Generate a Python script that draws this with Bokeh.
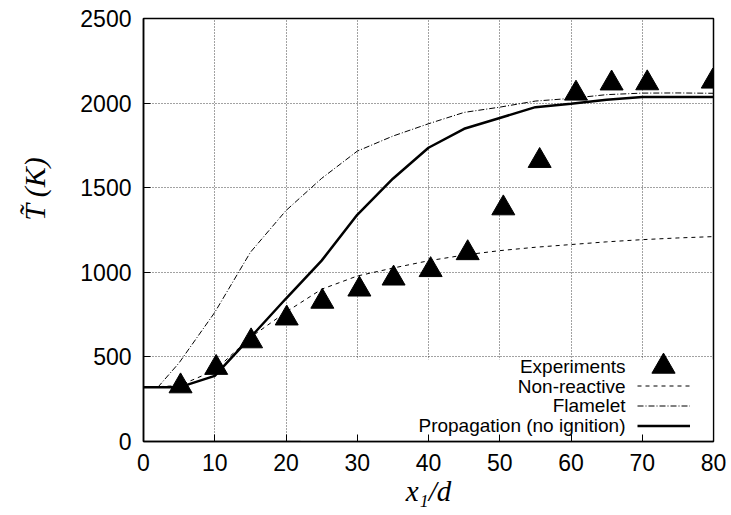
from bokeh.plotting import figure
from bokeh.models import (Legend, LegendItem, Label, BoxAnnotation, FixedTicker)
from bokeh.embed import file_html
from bokeh.resources import INLINE

# ---------------- data ----------------
x_exp = [5.2, 10.2, 15.1, 20.1, 25.1, 30.3, 35.1, 40.3, 45.5, 50.5, 55.6, 60.7, 65.7, 70.7, 79.9]
T_exp = [327, 436, 593, 728, 827, 899, 964, 1014, 1114, 1379, 1659, 2057, 2117, 2118, 2128]

x_nr = [0, 5, 10, 15, 20, 25, 30, 35, 40, 45, 50, 55, 60, 65, 70, 75, 80]
T_nr = [320, 330, 420, 615, 765, 900, 978, 1025, 1068, 1102, 1128, 1148, 1164, 1180, 1193, 1203, 1211]

x_fl = [2, 5, 10, 15, 20, 25, 30, 35, 40, 45, 50, 55, 60, 65, 70, 75, 80]
T_fl = [320, 465, 763, 1118, 1365, 1555, 1716, 1805, 1878, 1945, 1976, 2012, 2028, 2050, 2059, 2060, 2058]

x_pr = [0, 5, 10, 15, 20, 25, 30, 35, 40, 45, 50, 55, 60, 65, 70, 75, 80]
T_pr = [320, 320, 388, 615, 845, 1069, 1340, 1553, 1736, 1848, 1912, 1976, 1996, 2020, 2036, 2036, 2036]

x_ticks = [0, 10, 20, 30, 40, 50, 60, 70, 80]
y_ticks = [0, 500, 1000, 1500, 2000, 2500]

legend_labels = ["Experiments", "Non-reactive", "Flamelet", "Propagation (no ignition)"]
x_label = "x\u2081/d"
y_label = "T\u0303 (K)"

SANS = "Liberation Sans"
SERIF = "Liberation Serif"

p = figure(frame_width=570, frame_height=423,
           x_range=(0, 80), y_range=(0, 2500),
           min_border_left=143, min_border_right=18,
           min_border_top=18, min_border_bottom=74,
           output_backend="svg", toolbar_location=None,
           background_fill_color="white", border_fill_color="white")

p.outline_line_color = "black"
p.outline_line_width = 1.5

for ax, ticks in ((p.xaxis[0], x_ticks), (p.yaxis[0], y_ticks)):
    ax.ticker = FixedTicker(ticks=ticks)
    ax.major_tick_in = 7
    ax.major_tick_out = 0
    ax.minor_tick_in = 0
    ax.minor_tick_out = 0
    ax.major_tick_line_color = "black"
    ax.axis_line_color = "black"
    ax.axis_line_width = 1.5
    ax.major_label_text_font = SANS
    ax.major_label_text_font_size = "23px"
    ax.major_label_text_color = "black"
    ax.major_label_standoff = 12
    ax.axis_label_text_font = SERIF
    ax.axis_label_text_font_style = "italic"
    ax.axis_label_text_color = "black"

yax = p.yaxis[0]
# leading no-break spaces shift the centred (rotated) title upwards, as in the reference
yax.axis_label = "\u00a0" * 11 + y_label
yax.axis_label_text_font_size = "30px"
yax.axis_label_standoff = 26

xax = p.xaxis[0]
xax.axis_label = x_label
xax.axis_label_text_font_size = "29px"
xax.axis_label_standoff = 1

for g in (p.xgrid[0], p.ygrid[0]):
    g.grid_line_color = "#444444"
    g.grid_line_dash = "1 2"
    g.grid_line_width = 1

# opaque key background (hides grid behind the key)
key_box = BoxAnnotation(left=157, right=569, bottom=1, top=82,
                        left_units="screen", right_units="screen",
                        bottom_units="screen", top_units="screen",
                        fill_color="white", fill_alpha=1.0, line_color=None,
                        level="glyph")
p.add_layout(key_box)

r_nr = p.line(x_nr, T_nr, line_color="black", line_width=1, line_dash="4 4")
r_fl = p.line(x_fl, T_fl, line_color="black", line_width=1, line_dash="6 2 1 2")
r_pr = p.line(x_pr, T_pr, line_color="black", line_width=2.5)
r_exp = p.scatter(x_exp, T_exp, marker="triangle", size=23,
                  fill_color="black", line_color="black")

# key: samples on the right, text right-aligned on the left (gnuplot style)
legend_lines = Legend(items=[LegendItem(label=" ", renderers=[r]) for r in (r_nr, r_fl, r_pr)],
                      location=(494, 6), glyph_width=53, glyph_height=19,
                      label_height=19, label_width=0, label_standoff=0,
                      padding=0, spacing=1, margin=0,
                      border_line_color=None, background_fill_alpha=0,
                      label_text_font_size="1px")
p.add_layout(legend_lines, "center")

legend_pts = Legend(items=[LegendItem(label=" ", renderers=[r_exp])],
                    location=(491, 46), glyph_width=58, glyph_height=58,
                    label_height=58, label_width=0, label_standoff=0,
                    padding=0, spacing=0, margin=0,
                    border_line_color=None, background_fill_alpha=0,
                    label_text_font_size="1px")
p.add_layout(legend_pts, "center")

row_y = [74.7, 55.2, 35.7, 16.2]
for txt, yy in zip(legend_labels, row_y):
    p.add_layout(Label(x=482, y=yy, x_units="screen", y_units="screen", text=txt,
                       text_align="right", text_baseline="middle",
                       text_font=SANS, text_font_size="19px", text_color="black"))

open("out.html", "w").write(file_html(p, INLINE))
